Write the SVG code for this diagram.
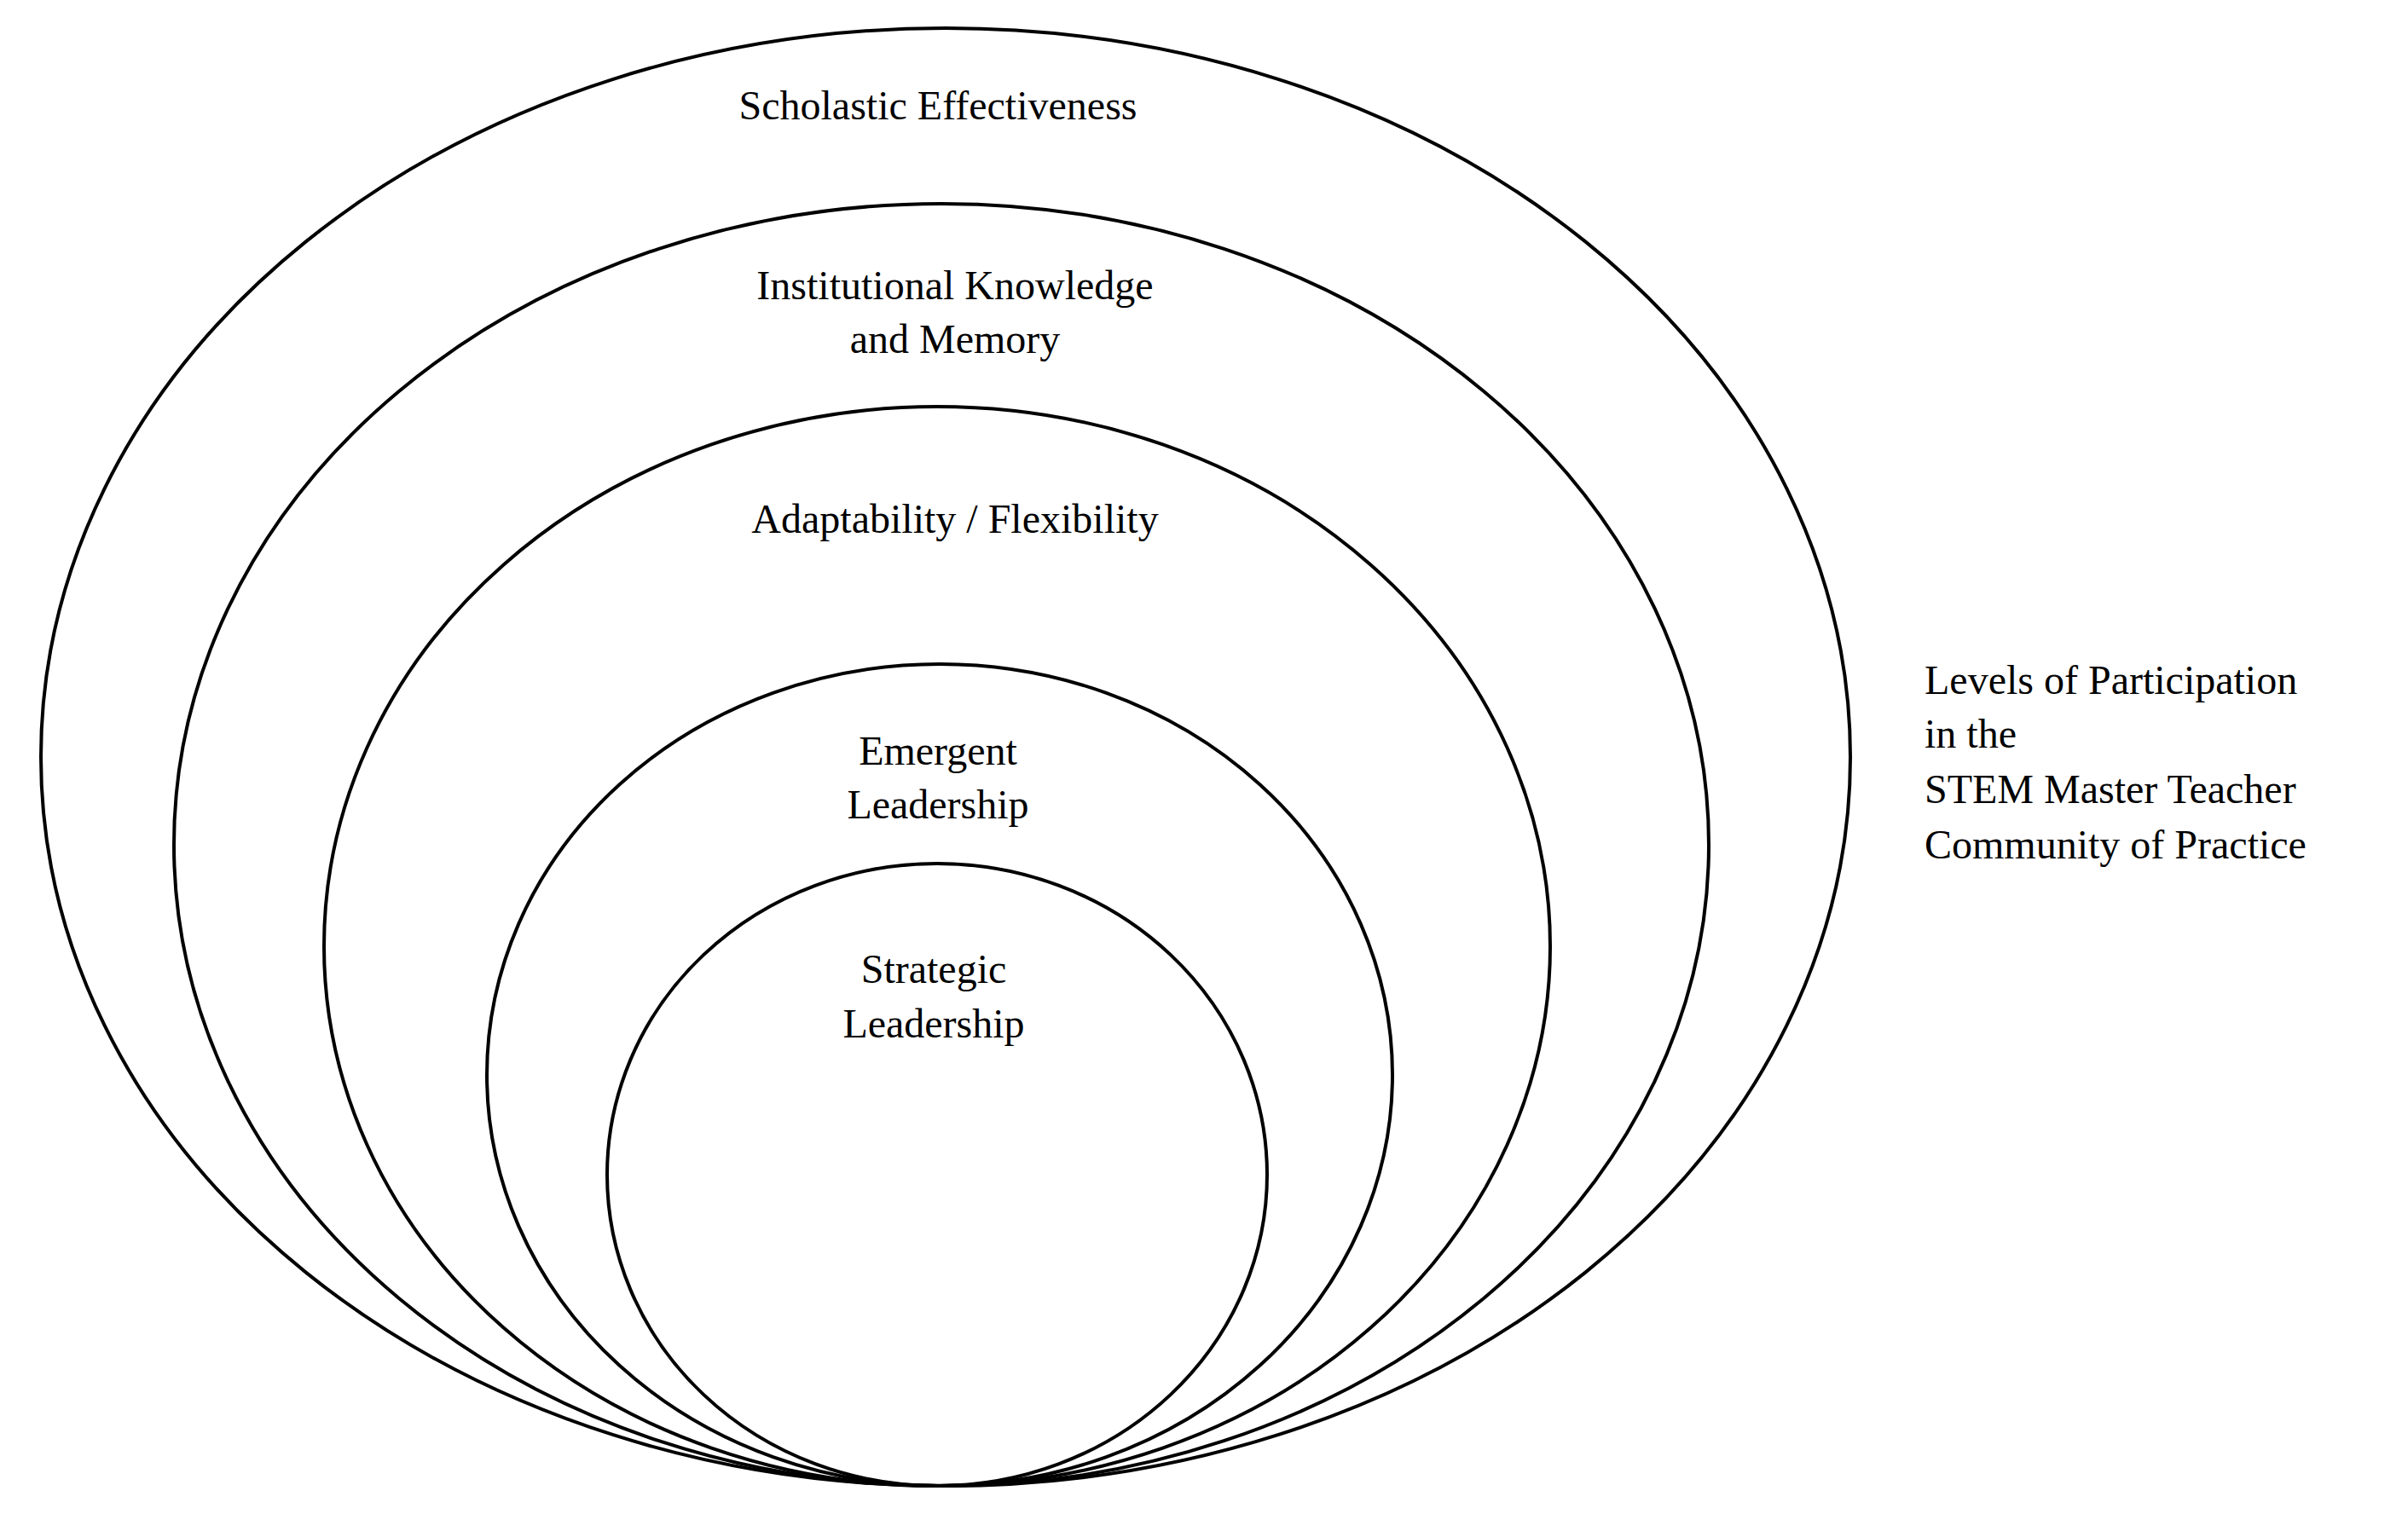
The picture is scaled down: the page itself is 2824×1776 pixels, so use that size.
<svg xmlns="http://www.w3.org/2000/svg" width="2824" height="1776" viewBox="0 0 2824 1776">
<style>
.e{fill:none;stroke:#000;stroke-width:4}
text{font-family:"Liberation Serif",serif;font-size:48px;fill:#000}
.c{text-anchor:middle}
</style>
<rect width="2824" height="1776" fill="#fff"/>
<g id="scholastic"><ellipse class="e" cx="1109" cy="888" rx="1061" ry="855"/><text class="c" x="1100" y="140">Scholastic Effectiveness</text></g>
<g id="institutional"><ellipse class="e" cx="1104" cy="991" rx="900" ry="752"/><text class="c" x="1120" y="351">Institutional Knowledge</text><text class="c" x="1120" y="414">and Memory</text></g>
<g id="adaptability"><ellipse class="e" cx="1099" cy="1110" rx="719" ry="633"/><text class="c" x="1120" y="625">Adaptability / Flexibility</text></g>
<g id="emergent"><ellipse class="e" cx="1102" cy="1261" rx="531" ry="482"/><text class="c" x="1100" y="897">Emergent</text><text class="c" x="1100" y="960">Leadership</text></g>
<g id="strategic"><ellipse class="e" cx="1099" cy="1378" rx="387" ry="365"/><text class="c" x="1095" y="1153">Strategic</text><text class="c" x="1095" y="1217">Leadership</text></g>
<g id="label"><text x="2257" y="814">Levels of Participation</text><text x="2257" y="877">in the</text><text x="2257" y="942">STEM Master Teacher</text><text x="2257" y="1007">Community of Practice</text></g>
<g id="connectors"/>
</svg>
